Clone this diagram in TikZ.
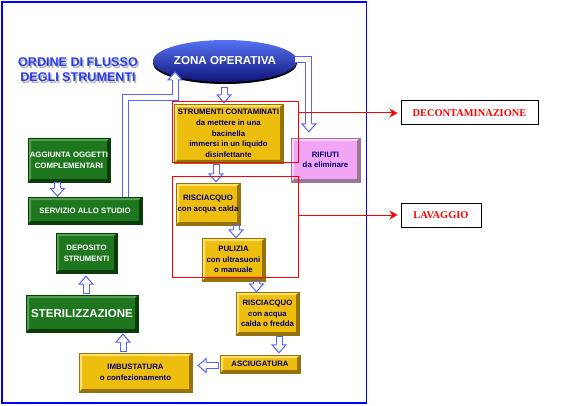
\documentclass[tikz,border=0pt]{standalone}
\usepackage{fontspec}
\setmainfont{Liberation Sans}
\newfontfamily\tnr{Liberation Serif}
\usetikzlibrary{calc,shapes.geometric,arrows.meta,shadings}

\definecolor{ablue}{RGB}{85,100,255}
\definecolor{navy}{RGB}{0,0,120}
\definecolor{yfill}{RGB}{238,190,15}
\definecolor{ylight}{RGB}{250,225,110}
\definecolor{ydark}{RGB}{150,115,10}
\definecolor{gfill}{RGB}{30,118,30}
\definecolor{glight}{RGB}{80,160,80}
\definecolor{gdark}{RGB}{10,60,10}
\definecolor{pfill}{RGB}{242,165,242}
\definecolor{plight}{RGB}{250,210,250}
\definecolor{pdark}{RGB}{150,120,150}
\definecolor{ttl}{RGB}{40,60,235}

\tikzset{
  bev/.style 2 args={path picture={
    \fill[#1] (path picture bounding box.north west) -- (path picture bounding box.north east) -- ++(-3,3)
      -- ($(path picture bounding box.north west)+(3,3)$) -- ($(path picture bounding box.south west)+(3,-3)$)
      -- (path picture bounding box.south west) -- cycle;
    \fill[#2] (path picture bounding box.south east) -- (path picture bounding box.north east) -- ++(-3,3)
      -- ($(path picture bounding box.south east)+(-3,-3)$) -- ($(path picture bounding box.south west)+(3,-3)$)
      -- (path picture bounding box.south west) -- cycle;
  }},
  box/.style={rectangle, inner sep=0pt, align=center, line width=0.4pt,
    font=\bfseries\fontsize{7.8}{10.7}\selectfont},
  ybox/.style={box, fill=yfill, bev={ylight}{ydark}, draw=ydark, text=navy},
  gbox/.style={box, fill=gfill, bev={glight}{gdark}, draw=gdark, text=white},
  pbox/.style={box, fill=pfill, bev={plight}{pdark}, draw=pdark, text=navy},
  shaft/.style={draw=ablue, double=white, double distance=5pt, line width=1pt, line join=miter},
  ahead/.style={fill=white, draw=ablue, line width=1pt, line join=miter},
  redframe/.style={draw=red, line width=1pt, rectangle, inner sep=0pt},
  redline/.style={draw=red, line width=1pt, -{Stealth[length=8pt,width=9pt]}, shorten >=3pt},
  lblbox/.style={draw=black, line width=1pt, rectangle, inner sep=0pt, text=red,
    font=\tnr\bfseries\fontsize{10.4}{12}\selectfont},
  ttlfont/.style={font=\bfseries\fontsize{12.6}{15}\selectfont, align=center},
}

\newcommand\headD[1]{\filldraw[ahead] ($(#1)+(-3,-8)$) -- ++(-4,0) -- (#1) -- ($(#1)+(7,-8)$) -- ++(-4,0);}
\newcommand\headU[1]{\filldraw[ahead] ($(#1)+(-3,8)$) -- ++(-4,0) -- (#1) -- ($(#1)+(7,8)$) -- ++(-4,0);}
\newcommand\headL[1]{\filldraw[ahead] ($(#1)+(8,-3)$) -- ++(0,-4) -- (#1) -- ($(#1)+(8,7)$) -- ++(0,-4);}
\newcommand\arrD[2]{\draw[shaft] (#1) -- ($(#2)+(0,-8)$);
  \draw[ablue, line width=1pt] ($(#1)+(-3.5,0)$) -- ($(#1)+(3.5,0)$); \headD{#2}}
\newcommand\arrU[2]{\draw[shaft] (#1) -- ($(#2)+(0,8)$);
  \draw[ablue, line width=1pt] ($(#1)+(-3.5,0)$) -- ($(#1)+(3.5,0)$); \headU{#2}}
\newcommand\arrL[2]{\draw[shaft] (#1) -- ($(#2)+(8,0)$);
  \draw[ablue, line width=1pt] ($(#1)+(0,-3.5)$) -- ($(#1)+(0,3.5)$); \headL{#2}}

\begin{document}
\begin{tikzpicture}[x=1pt,y=-1pt]
\useasboundingbox (0,0) rectangle (564,406);
\draw[blue, line width=1.5pt] (2,2) rectangle (366.5,403);

% title
\node[ttlfont, text=gray!60] at (79.5,71.5) {ORDINE DI FLUSSO\\DEGLI STRUMENTI};
\node[ttlfont, text=ttl] (title) at (78,70) {ORDINE DI FLUSSO\\DEGLI STRUMENTI};

% zona operativa
\node[ellipse, minimum width=110, minimum height=42, inner sep=0pt,
  top color={rgb,255:red,85;green,115;blue,245}, middle color={rgb,255:red,40;green,65;blue,215},
  bottom color={rgb,255:red,15;green,20;blue,120},
  preaction={fill=black, transform canvas={yshift=-2pt}},
  text=white, font=\bfseries\fontsize{11.6}{13}\selectfont] (zona) at (225,61) {ZONA OPERATIVA};

% boxes
\node[ybox, minimum width=109, minimum height=59] (strum) at (228.5,133.5)
  {STRUMENTI CONTAMINATI\\da mettere in una\\bacinella\\immersi in un liquido\\disinfettante};
\node[pbox, minimum width=69, minimum height=44] (rif) at (325.5,160) {RIFIUTI\\da eliminare};
\node[gbox, minimum width=82, minimum height=44] (agg) at (69,160) {AGGIUNTA OGGETTI\\COMPLEMENTARI};
\node[gbox, minimum width=114, minimum height=27] (serv) at (85,210.5) {SERVIZIO ALLO STUDIO};
\node[gbox, minimum width=61, minimum height=40] (dep) at (86.5,253) {DEPOSITO\\STRUMENTI};
\node[gbox, minimum width=112, minimum height=37, font=\bfseries\fontsize{11.5}{13}\selectfont] (ster) at (82,313.5) {STERILIZZAZIONE};
\node[ybox, minimum width=113, minimum height=39] (imb) at (135.5,372.5) {IMBUSTATURA\\o confezionamento};
\node[ybox, minimum width=80, minimum height=18] (asc) at (260,364) {ASCIUGATURA};
\node[ybox, minimum width=63, minimum height=43] (ris2) at (267.5,313.5) {RISCIACQUO\\con acqua\\calda o fredda};
\node[ybox, minimum width=64, minimum height=42] (ris1) at (208,204) {RISCIACQUO\\con acqua calda};
\node[ybox, minimum width=63, minimum height=43] (pul) at (233.5,259.5) {PULIZIA\\con ultrasuoni\\o manuale};

% label boxes
\node[lblbox, minimum width=137, minimum height=24] (decon) at (469.5,113) {DECONTAMINAZIONE};
\node[lblbox, minimum width=80, minimum height=24] (lav) at (441,215) {LAVAGGIO};

% hollow arrows
\coordinate (s1) at ($(zona.south)+(-1,5)$);
\coordinate (t1) at ($(zona.south |- strum.north)+(-1,-1)$);
\arrD{s1}{t1}
\coordinate (s2) at ($(strum.south)+(-12.5,1)$);
\coordinate (t2) at ($(ris1.north)+(8,-1)$);
\arrD{s2}{t2}
\coordinate (s3) at ($(ris1.south)+(28,0.5)$);
\coordinate (t3) at ($(pul.north)+(2.5,0)$);
\arrD{s3}{t3}
\coordinate (s4) at ($(pul.south)+(23,0.5)$);
\coordinate (t4) at ($(ris2.north)+(-11,0)$);
\arrD{s4}{t4}
\coordinate (s5) at ($(ris2.south)+(11.5,1.5)$);
\coordinate (t5) at ($(asc.north)+(19,-2)$);
\arrD{s5}{t5}
\coordinate (s6) at ($(asc.west)+(-1.5,1.5)$);
\coordinate (t6) at ($(imb.east |- asc.west)+(6,1.5)$);
\arrL{s6}{t6}
\coordinate (s7) at ($(imb.north)+(-12.5,-1)$);
\coordinate (t7) at ($(ster.south)+(41,2)$);
\arrU{s7}{t7}
\coordinate (s8) at ($(ster.north)+(4,-1)$);
\coordinate (t8) at ($(dep.south)+(-0.5,3)$);
\arrU{s8}{t8}
\coordinate (s9) at ($(agg.south)+(-11.5,0.5)$);
\coordinate (t9) at ($(serv.north)+(-27.5,-0.5)$);
\arrD{s9}{t9}

% serv -> zona (bent)
\coordinate (bendA) at (175,97.5);
\coordinate (ztip) at ($(zona.center)+(-50,11)$);
\draw[shaft] ($(serv.north east)+(-17,0)$) |- (bendA) -- ($(ztip)+(0,8)$);
\headU{ztip}
% zona -> rifiuti (bent)
\coordinate (rtip) at ($(rif.north west)+(18,-6)$);
\draw[shaft] ($(zona.east)+(-2,-1.5)$) -| ($(rtip)+(0,-8)$);
\headD{rtip}

% red frames and connectors
\node[redframe, minimum width=126, minimum height=61.3] (rA) at (235,132.35) {};
\node[redframe, minimum width=126, minimum height=101] (rB) at (235,227) {};
\draw[redline] (rA.east |- decon.west) -- (decon.west);
\draw[redline] (rB.east |- lav.west) -- (lav.west);
\end{tikzpicture}
\end{document}
